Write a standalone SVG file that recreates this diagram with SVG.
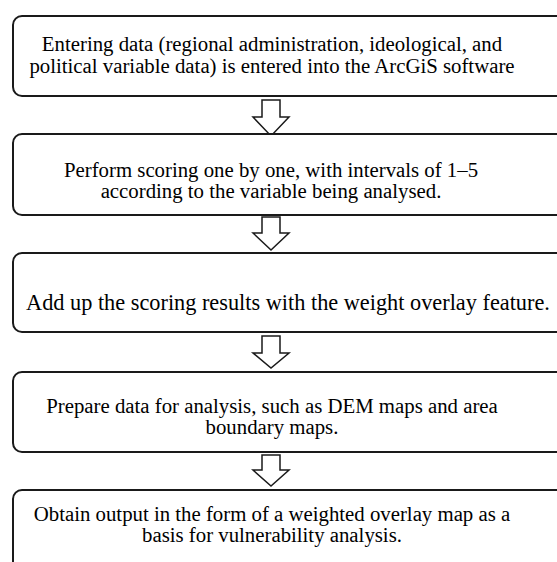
<svg xmlns="http://www.w3.org/2000/svg" width="557" height="562" viewBox="0 0 557 562">
<style>
.box{fill:#fff;stroke:#1a1a1a;stroke-width:2}
.t{font-family:'Liberation Serif','Times New Roman',Times,serif;font-size:20.8px;fill:#000;text-anchor:middle}
.big{font-size:22.3px}
.arr{fill:#fff;stroke:#1a1a1a;stroke-width:1.5;stroke-linejoin:miter}
</style>
<rect width="557" height="562" fill="#fff"/>
<g id="connectors">
<path class="arr" d="M262,100 H280 V117 H289 L271,136 L253,117 H262 Z"/>
<path class="arr" d="M262,217 H280 V233 H289 L271,250 L253,233 H262 Z"/>
<path class="arr" d="M262,336 H280 V353 H289 L271,368 L253,353 H262 Z"/>
<path class="arr" d="M262,455 H280 V470 H289 L271,486 L253,470 H262 Z"/>
</g>
<g id="node1">
<rect class="box" x="13" y="16" width="560" height="80" rx="9"/>
<text class="t" x="272" y="51">Entering data (regional administration, ideological, and</text>
<text class="t" x="272" y="73">political variable data) is entered into the ArcGiS software</text>
</g>
<g id="node2">
<rect class="box" x="13" y="134" width="560" height="81" rx="9"/>
<text class="t" x="271" y="177">Perform scoring one by one, with intervals of 1–5</text>
<text class="t" x="271" y="198">according to the variable being analysed.</text>
</g>
<g id="node3">
<rect class="box" x="13" y="253" width="560" height="79" rx="9"/>
<text class="t big" x="288" y="310">Add up the scoring results with the weight overlay feature.</text>
</g>
<g id="node4">
<rect class="box" x="13" y="372" width="560" height="80" rx="9"/>
<text class="t" x="272" y="413">Prepare data for analysis, such as DEM maps and area</text>
<text class="t" x="272" y="434">boundary maps.</text>
</g>
<g id="node5">
<rect class="box" x="13" y="490" width="560" height="90" rx="9"/>
<text class="t" x="272" y="521">Obtain output in the form of a weighted overlay map as a</text>
<text class="t" x="272" y="542">basis for vulnerability analysis.</text>
</g>
</svg>
